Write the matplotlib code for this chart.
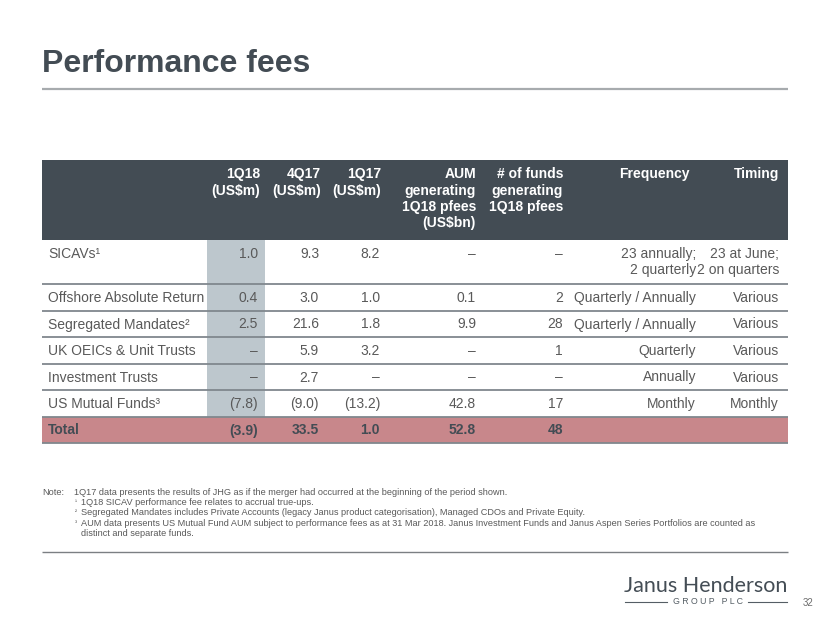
import matplotlib
matplotlib.use("Agg")
import matplotlib.pyplot as plt
from matplotlib.patches import Rectangle

plt.rcParams['font.family'] = ['Liberation Sans', 'DejaVu Sans']
plt.rcParams['text.parse_math'] = False

# ---- data ----
row_labels = ["SICAVs¹", "Offshore Absolute Return", "Segregated Mandates²",
              "UK OEICs & Unit Trusts", "Investment Trusts", "US Mutual Funds³"]
col_headers = ["1Q18\n(US$m)", "4Q17\n(US$m)", "1Q17\n(US$m)",
               "AUM\ngenerating\n1Q18 pfees\n(US$bn)",
               "# of funds\ngenerating\n1Q18 pfees", "Frequency", "Timing"]
fees_1q18 = [1.0, 0.4, 2.5, None, None, -7.8]
fees_4q17 = [9.3, 3.0, 21.6, 5.9, 2.7, -9.0]
fees_1q17 = [8.2, 1.0, 1.8, 3.2, None, -13.2]
aum_bn = [None, 0.1, 9.9, None, None, 42.8]
n_funds = [None, 2, 28, 1, None, 17]
frequency = ["23 annually;\n2 quarterly", "Quarterly / Annually", "Quarterly / Annually",
             "Quarterly", "Annually", "Monthly"]
timing = ["23 at June;\n2 on quarters", "Various", "Various", "Various", "Various", "Monthly"]
total_label = "Total"
total_values = [-3.9, 33.5, 1.0, 52.8, 48]

notes = [
    ("Note:", "1Q17 data presents the results of JHG as if the merger had occurred at the beginning of the period shown."),
    ("¹", "1Q18 SICAV performance fee relates to accrual true-ups."),
    ("²", "Segregated Mandates includes Private Accounts (legacy Janus product categorisation), Managed CDOs and Private Equity."),
    ("³", "AUM data presents US Mutual Fund AUM subject to performance fees as at 31 Mar 2018. Janus Investment Funds and Janus Aspen Series Portfolios are counted as"),
    ("", "distinct and separate funds."),
]


def fmt(v):
    if v is None:
        return "–"
    if isinstance(v, int):
        return str(v)
    if v < 0:
        return f"({-v:.1f})"
    return f"{v:.1f}"


# ---- styles / layout ----
DARK = "#434c54"
BODY = "#595959"
HILITE = "#bdc7cd"
TOTAL_BG = "#c8878b"
RULE = "#80878d"

left, right = 42, 788
header_top, header_bot = 160, 240
row_heights = [44, 26.5, 26.5, 26.5, 26.5, 26.5]
total_h = 26.5
header_x = [260, 321, 381, 476, 563, 690, 779]
body_x = [258, 319, 380, 476, 563, 696, 779]
hl_x0, hl_x1 = 207, 265

fig = plt.figure(figsize=(8.3, 6.23), dpi=100)
ax = fig.add_axes([0, 0, 1, 1])
ax.set_xlim(0, 830)
ax.set_ylim(623, 0)
ax.axis('off')

# title
ax.text(left, 72, "Performance fees", fontsize=23, fontweight='bold', color=DARK, va='baseline')
ax.plot([left, right], [89, 89], color="#a7abae", lw=1.6, solid_capstyle='butt')

# header
ax.add_patch(Rectangle((left, header_top), right - left, header_bot - header_top, color=DARK, lw=0))
for x, h in zip(header_x, col_headers):
    for i, line in enumerate(h.split("\n")):
        ax.text(x, header_top + 18 + 16.5 * i, line, ha='right', va='baseline',
                fontsize=10, fontweight='bold', color='white')

# body rows
tops = [header_bot]
for h in row_heights:
    tops.append(tops[-1] + h)
ax.add_patch(Rectangle((hl_x0, header_bot), hl_x1 - hl_x0, tops[-1] - header_bot, color=HILITE, lw=0))

columns = [fees_1q18, fees_4q17, fees_1q17, aum_bn, n_funds]
for r, label in enumerate(row_labels):
    top = tops[r]
    cells = [fmt(c[r]) for c in columns] + [frequency[r], timing[r]]
    ax.text(48, top + 18, label, ha='left', va='baseline', fontsize=10, color=BODY)
    for x, cell in zip(body_x, cells):
        for i, line in enumerate(cell.split("\n")):
            ax.text(x, top + 18 + 16 * i, line, ha='right', va='baseline', fontsize=10, color=BODY)

# total row
ttop = tops[-1]
ax.add_patch(Rectangle((left, ttop), right - left, total_h, color=TOTAL_BG, lw=0))
ax.text(48, ttop + 18, total_label, ha='left', va='baseline', fontsize=10, fontweight='bold', color=DARK)
for x, v in zip(body_x, total_values):
    ax.text(x, ttop + 18, fmt(v), ha='right', va='baseline', fontsize=10, fontweight='bold', color=DARK)

# separators
for y in tops[1:] + [ttop + total_h]:
    ax.plot([left, right], [y, y], color=RULE, lw=1.3, solid_capstyle='butt')

# notes
for i, (tag, txt) in enumerate(notes):
    y = 495 + 10.2 * i
    if tag == "Note:":
        ax.text(left, y, tag, fontsize=6.55, color=BODY, va='baseline')
        ax.text(74, y, txt, fontsize=6.55, color=BODY, va='baseline')
    else:
        ax.text(75, y - 1, tag, fontsize=4.5, color=BODY, va='baseline')
        ax.text(81, y, txt, fontsize=6.55, color=BODY, va='baseline')
ax.plot([left, right], [552, 552], color="#7b7f83", lw=1.0, solid_capstyle='butt')

# logo + page number
ax.text(787, 592, "Janus Henderson", ha='right', va='baseline', fontsize=15.5,
        family=['Lato', 'DejaVu Sans'], color="#444d55")
ax.text(707.5, 604.5, "G R O U P   P L C", ha='center', va='baseline', fontsize=6.3,
        color="#555e65")
ax.plot([625, 667], [601.5, 601.5], color="#555e65", lw=0.8)
ax.plot([748, 787], [601.5, 601.5], color="#555e65", lw=0.8)
ax.text(803, 606, "32", ha='left', va='baseline', fontsize=7, color="#6d6d6d")

fig.savefig("out.png", dpi=100)
